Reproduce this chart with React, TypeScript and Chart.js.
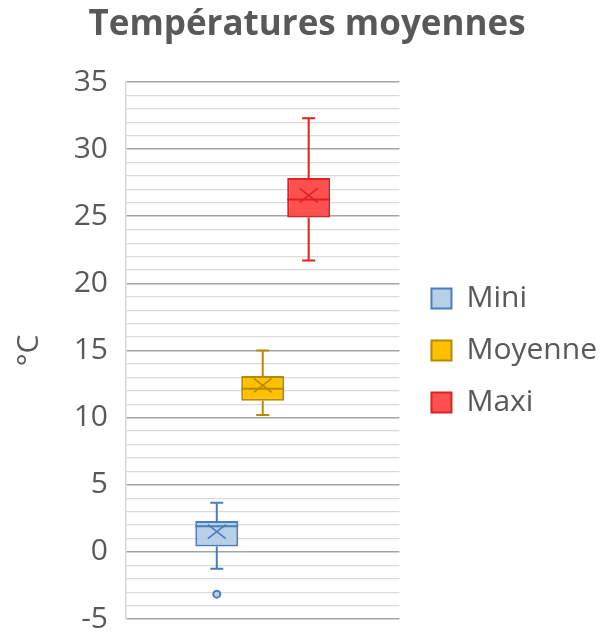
import React, { useEffect, useRef } from 'react';
import { Chart, registerables } from 'chart.js';

Chart.register(...registerables);

const categories = [''];
const seriesNames = ['Mini', 'Moyenne', 'Maxi'];
const q1Values = [0.4, 11.25, 24.9];
const q3Values = [2.3, 13.1, 27.85];
const medianValues = [1.9, 12.15, 26.25];
const meanValues = [1.5, 12.4, 26.55];
const whiskerMinValues = [-1.25, 10.2, 21.7];
const whiskerMaxValues = [3.65, 15.0, 32.3];
const outlierValues: number[][] = [[-3.15], [], []];
const fillColors = ['#b7cfe9', '#ffc000', '#ff4f4f'];
const lineColors = ['#4a7ebb', '#b58a00', '#dc2222'];
const yMin = -5;
const yMax = 35;
const majorStep = 5;
const minorStep = 1;
const titleText = 'Températures moyennes';
const yTitleText = '°C';

const TEXT = '#595959';

const boxPlotPlugin = {
  id: 'boxPlotParts',
  afterDatasetsDraw(chart: any) {
    const ctx = chart.ctx;
    const y = chart.scales.y;
    chart.data.datasets.forEach((ds: any, i: number) => {
      const meta = chart.getDatasetMeta(i);
      const bar = meta.data[0];
      if (!bar) return;
      const { x, width } = bar.getProps(['x', 'width'], true);
      const pQ1 = y.getPixelForValue(q1Values[i]);
      const pQ3 = y.getPixelForValue(q3Values[i]);
      const pMed = y.getPixelForValue(medianValues[i]);
      const pMean = y.getPixelForValue(meanValues[i]);
      const pMin = y.getPixelForValue(whiskerMinValues[i]);
      const pMax = y.getPixelForValue(whiskerMaxValues[i]);
      const cap = 6.5;
      ctx.save();
      ctx.strokeStyle = lineColors[i];
      ctx.lineWidth = 2;
      ctx.beginPath();
      ctx.moveTo(x, pQ3);
      ctx.lineTo(x, pMax);
      ctx.moveTo(x - cap, pMax);
      ctx.lineTo(x + cap, pMax);
      ctx.moveTo(x, pQ1);
      ctx.lineTo(x, pMin);
      ctx.moveTo(x - cap, pMin);
      ctx.lineTo(x + cap, pMin);
      ctx.moveTo(x - width / 2, pMed);
      ctx.lineTo(x + width / 2, pMed);
      ctx.stroke();
      ctx.lineWidth = 1.6;
      ctx.beginPath();
      ctx.moveTo(x - 9, pMean - 7);
      ctx.lineTo(x + 9, pMean + 7);
      ctx.moveTo(x - 9, pMean + 7);
      ctx.lineTo(x + 9, pMean - 7);
      ctx.stroke();
      ctx.lineWidth = 2;
      outlierValues[i].forEach((v) => {
        ctx.beginPath();
        ctx.arc(x, y.getPixelForValue(v), 3.5, 0, Math.PI * 2);
        ctx.fillStyle = fillColors[i];
        ctx.fill();
        ctx.stroke();
      });
      ctx.restore();
    });
  },
};

export default function App() {
  const ref = useRef<HTMLCanvasElement | null>(null);
  useEffect(() => {
    if (!ref.current) return;
    Chart.defaults.font.family = '"Open Sans", "Noto Sans", sans-serif';
    Chart.defaults.color = TEXT;
    const chart = new Chart(ref.current, {
      type: 'bar',
      data: {
        labels: categories,
        datasets: seriesNames.map((name, i) => ({
          label: name,
          data: [[q1Values[i], q3Values[i]]] as any,
          backgroundColor: fillColors[i],
          borderColor: lineColors[i],
          borderWidth: 2,
          borderSkipped: false,
          barPercentage: 0.935,
          categoryPercentage: 0.504,
        })),
      },
      options: {
        animation: false,
        responsive: false,
        layout: { padding: { left: 7, right: -1, top: 0, bottom: 0 } },
        plugins: {
          title: {
            display: true,
            text: titleText,
            color: TEXT,
            font: { size: 35, weight: 'bold' },
            padding: { top: 4, bottom: 36 },
          },
          legend: {
            display: true,
            position: 'right',
            fullSize: false,
            maxWidth: 320,
            labels: {
              color: TEXT,
              font: { size: 30 },
              boxWidth: 20,
              boxHeight: 20,
              padding: 22,
            },
          } as any,
          tooltip: { enabled: false },
        },
        scales: {
          x: { display: false },
          y: {
            min: yMin,
            max: yMax,
            afterFit: (s: any) => {
              s.width = 119;
            },
            ticks: {
              stepSize: minorStep,
              autoSkip: false,
              padding: 0,
              color: TEXT,
              font: { size: 30, lineHeight: 1 },
              callback: (v: any) => (Number(v) % majorStep === 0 ? String(v) : ''),
            },
            grid: {
              drawTicks: true,
              tickLength: 18,
              tickColor: 'rgba(0,0,0,0)',
              color: (c: any) => (c.tick && c.tick.value % majorStep === 0 ? '#a3a3a3' : '#dadada'),
              lineWidth: (c: any) => (c.tick && c.tick.value % majorStep === 0 ? 1.6 : 1.2),
            },
            border: { display: true, color: '#d6d6d6', width: 1.5 },
            title: {
              display: true,
              text: yTitleText,
              color: TEXT,
              font: { size: 30 },
              padding: { top: 4, bottom: 4 },
            },
          },
          yPad: {
            type: 'linear',
            position: 'right',
            display: true,
            grid: { display: false },
            ticks: { display: false },
            border: { display: false },
            afterFit: (s: any) => {
              s.width = 10;
            },
          } as any,
        },
      },
      plugins: [boxPlotPlugin],
    });
    return () => chart.destroy();
  }, []);
  return (
    <div style={{ position: 'fixed', left: 0, top: 0, width: 606, height: 634 }}>
      <canvas ref={ref} width={606} height={634} style={{ display: 'block' }} />
    </div>
  );
}
